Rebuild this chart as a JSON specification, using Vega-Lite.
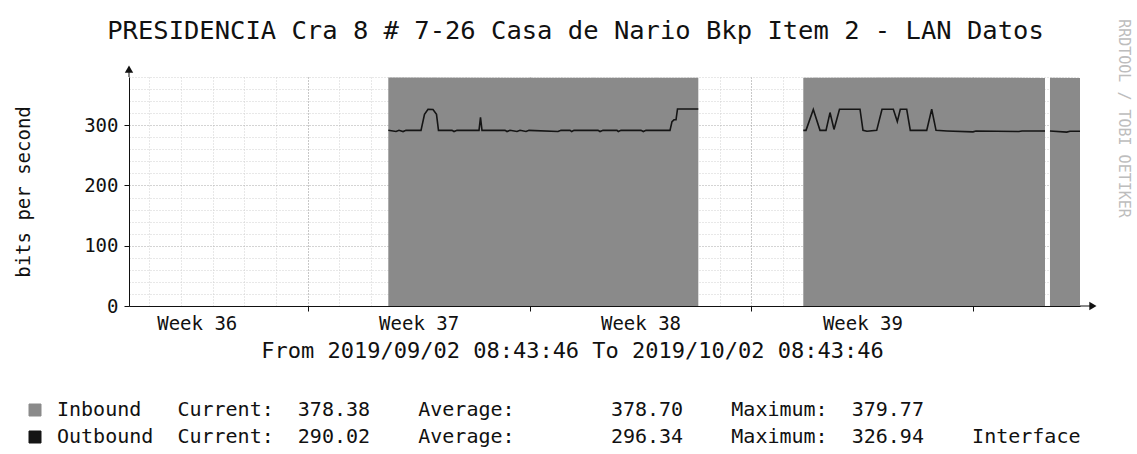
{
  "$schema": "https://vega.github.io/schema/vega-lite/v6.json",
  "width": 951,
  "height": 229,
  "autosize": "none",
  "padding": {"left": 129, "top": 77, "right": 57, "bottom": 148},
  "background": "white",
  "title": {
    "text": "PRESIDENCIA Cra 8 # 7-26 Casa de Nario Bkp Item 2 - LAN Datos",
    "font": "DejaVu Sans Mono",
    "fontSize": 25.5,
    "fontWeight": "normal",
    "color": "#111111",
    "anchor": "middle",
    "frame": "group",
    "dx": -29,
    "dy": 26,
    "offset": 0
  },
  "config": {
    "view": {"stroke": null},
    "font": "DejaVu Sans Mono",
    "axis": {
      "labelFont": "DejaVu Sans Mono",
      "titleFont": "DejaVu Sans Mono",
      "labelColor": "#111111",
      "titleColor": "#111111",
      "titleFontWeight": "normal",
      "domainColor": "#111111",
      "tickColor": "#111111"
    }
  },
  "data": {
    "values": [
      {"s": "Inbound", "g": 1, "t": "2019-09-10T13:03:00", "v": 379.1},
      {"s": "Inbound", "g": 1, "t": "2019-09-15T12:00:00", "v": 378.7},
      {"s": "Inbound", "g": 1, "t": "2019-09-20T07:45:00", "v": 378.9},
      {"s": "Inbound", "g": 2, "t": "2019-09-23T15:14:00", "v": 378.6},
      {"s": "Inbound", "g": 2, "t": "2019-09-27T00:00:00", "v": 379.0},
      {"s": "Inbound", "g": 2, "t": "2019-10-01T06:14:00", "v": 378.5},
      {"s": "Inbound", "g": 3, "t": "2019-10-01T10:00:00", "v": 378.6},
      {"s": "Inbound", "g": 3, "t": "2019-10-02T08:43:46", "v": 378.38},

      {"s": "Outbound", "g": 1, "t": "2019-09-10T13:03:00", "v": 291.5},
      {"s": "Outbound", "g": 1, "t": "2019-09-10T18:53:00", "v": 289.5},
      {"s": "Outbound", "g": 1, "t": "2019-09-10T21:09:00", "v": 291.5},
      {"s": "Outbound", "g": 1, "t": "2019-09-11T00:12:00", "v": 289.5},
      {"s": "Outbound", "g": 1, "t": "2019-09-11T02:27:00", "v": 291.5},
      {"s": "Outbound", "g": 1, "t": "2019-09-11T13:48:00", "v": 291.5},
      {"s": "Outbound", "g": 1, "t": "2019-09-11T16:27:00", "v": 318},
      {"s": "Outbound", "g": 1, "t": "2019-09-11T19:06:00", "v": 326.5},
      {"s": "Outbound", "g": 1, "t": "2019-09-11T22:53:00", "v": 326},
      {"s": "Outbound", "g": 1, "t": "2019-09-12T01:32:00", "v": 318},
      {"s": "Outbound", "g": 1, "t": "2019-09-12T03:03:00", "v": 291.5},
      {"s": "Outbound", "g": 1, "t": "2019-09-12T13:16:00", "v": 291.5},
      {"s": "Outbound", "g": 1, "t": "2019-09-12T14:47:00", "v": 289.5},
      {"s": "Outbound", "g": 1, "t": "2019-09-12T17:04:00", "v": 291.5},
      {"s": "Outbound", "g": 1, "t": "2019-09-13T09:43:00", "v": 291.5},
      {"s": "Outbound", "g": 1, "t": "2019-09-13T10:51:00", "v": 313},
      {"s": "Outbound", "g": 1, "t": "2019-09-13T11:59:00", "v": 291.5},
      {"s": "Outbound", "g": 1, "t": "2019-09-14T05:24:00", "v": 291.5},
      {"s": "Outbound", "g": 1, "t": "2019-09-14T06:55:00", "v": 289.5},
      {"s": "Outbound", "g": 1, "t": "2019-09-14T09:11:00", "v": 291.5},
      {"s": "Outbound", "g": 1, "t": "2019-09-14T14:29:00", "v": 289.5},
      {"s": "Outbound", "g": 1, "t": "2019-09-14T16:46:00", "v": 291.5},
      {"s": "Outbound", "g": 1, "t": "2019-09-14T21:18:00", "v": 289.5},
      {"s": "Outbound", "g": 1, "t": "2019-09-14T23:34:00", "v": 291.5},
      {"s": "Outbound", "g": 1, "t": "2019-09-15T21:32:00", "v": 289.5},
      {"s": "Outbound", "g": 1, "t": "2019-09-15T23:48:00", "v": 291.5},
      {"s": "Outbound", "g": 1, "t": "2019-09-16T06:37:00", "v": 291.5},
      {"s": "Outbound", "g": 1, "t": "2019-09-16T07:54:00", "v": 289.5},
      {"s": "Outbound", "g": 1, "t": "2019-09-16T09:38:00", "v": 291.5},
      {"s": "Outbound", "g": 1, "t": "2019-09-17T03:49:00", "v": 291.5},
      {"s": "Outbound", "g": 1, "t": "2019-09-17T05:19:00", "v": 289.5},
      {"s": "Outbound", "g": 1, "t": "2019-09-17T07:36:00", "v": 291.5},
      {"s": "Outbound", "g": 1, "t": "2019-09-17T18:11:00", "v": 291.5},
      {"s": "Outbound", "g": 1, "t": "2019-09-17T19:11:00", "v": 289.5},
      {"s": "Outbound", "g": 1, "t": "2019-09-17T21:13:00", "v": 291.5},
      {"s": "Outbound", "g": 1, "t": "2019-09-18T12:22:00", "v": 291.5},
      {"s": "Outbound", "g": 1, "t": "2019-09-18T14:07:00", "v": 289.5},
      {"s": "Outbound", "g": 1, "t": "2019-09-18T16:09:00", "v": 291.5},
      {"s": "Outbound", "g": 1, "t": "2019-09-19T10:19:00", "v": 291.5},
      {"s": "Outbound", "g": 1, "t": "2019-09-19T11:50:00", "v": 306},
      {"s": "Outbound", "g": 1, "t": "2019-09-19T13:21:00", "v": 309},
      {"s": "Outbound", "g": 1, "t": "2019-09-19T14:52:00", "v": 309},
      {"s": "Outbound", "g": 1, "t": "2019-09-19T16:00:00", "v": 327},
      {"s": "Outbound", "g": 1, "t": "2019-09-20T07:45:00", "v": 327},

      {"s": "Outbound", "g": 2, "t": "2019-09-23T15:14:00", "v": 291.5},
      {"s": "Outbound", "g": 2, "t": "2019-09-23T17:17:00", "v": 291.5},
      {"s": "Outbound", "g": 2, "t": "2019-09-23T22:49:00", "v": 326},
      {"s": "Outbound", "g": 2, "t": "2019-09-24T03:53:00", "v": 291.5},
      {"s": "Outbound", "g": 2, "t": "2019-09-24T08:26:00", "v": 291.5},
      {"s": "Outbound", "g": 2, "t": "2019-09-24T11:28:00", "v": 321},
      {"s": "Outbound", "g": 2, "t": "2019-09-24T14:29:00", "v": 293},
      {"s": "Outbound", "g": 2, "t": "2019-09-24T18:39:00", "v": 326.5},
      {"s": "Outbound", "g": 2, "t": "2019-09-25T10:10:00", "v": 326.5},
      {"s": "Outbound", "g": 2, "t": "2019-09-25T12:26:00", "v": 291.5},
      {"s": "Outbound", "g": 2, "t": "2019-09-25T15:28:00", "v": 290},
      {"s": "Outbound", "g": 2, "t": "2019-09-25T22:49:00", "v": 291.5},
      {"s": "Outbound", "g": 2, "t": "2019-09-26T02:50:00", "v": 326.5},
      {"s": "Outbound", "g": 2, "t": "2019-09-26T11:23:00", "v": 326.5},
      {"s": "Outbound", "g": 2, "t": "2019-09-26T14:25:00", "v": 306},
      {"s": "Outbound", "g": 2, "t": "2019-09-26T16:41:00", "v": 326.5},
      {"s": "Outbound", "g": 2, "t": "2019-09-26T21:32:00", "v": 326.5},
      {"s": "Outbound", "g": 2, "t": "2019-09-27T00:15:00", "v": 291.5},
      {"s": "Outbound", "g": 2, "t": "2019-09-27T12:40:00", "v": 291.5},
      {"s": "Outbound", "g": 2, "t": "2019-09-27T16:27:00", "v": 326.5},
      {"s": "Outbound", "g": 2, "t": "2019-09-27T19:43:00", "v": 291.5},
      {"s": "Outbound", "g": 2, "t": "2019-09-28T04:02:00", "v": 290.5},
      {"s": "Outbound", "g": 2, "t": "2019-09-28T23:43:00", "v": 289},
      {"s": "Outbound", "g": 2, "t": "2019-09-29T01:59:00", "v": 290.5},
      {"s": "Outbound", "g": 2, "t": "2019-09-30T10:33:00", "v": 289.5},
      {"s": "Outbound", "g": 2, "t": "2019-09-30T12:49:00", "v": 290.5},
      {"s": "Outbound", "g": 2, "t": "2019-10-01T06:14:00", "v": 290.5},

      {"s": "Outbound", "g": 3, "t": "2019-10-01T10:00:00", "v": 290.5},
      {"s": "Outbound", "g": 3, "t": "2019-10-01T22:40:00", "v": 288.5},
      {"s": "Outbound", "g": 3, "t": "2019-10-02T01:10:00", "v": 290},
      {"s": "Outbound", "g": 3, "t": "2019-10-02T08:43:46", "v": 290.02}
    ]
  },
  "encoding": {
    "color": {
      "field": "s",
      "type": "nominal",
      "scale": {"domain": ["Inbound", "Outbound"], "range": ["#8a8a8a", "#151515"]},
      "legend": {
        "orient": "none",
        "legendX": -104,
        "legendY": 323,
        "direction": "vertical",
        "title": null,
        "padding": 0,
        "symbolType": "square",
        "symbolSize": 144,
        "symbolStrokeColor": "#222222",
        "symbolStrokeWidth": 1,
        "symbolOpacity": 1,
        "labelFont": "DejaVu Sans Mono",
        "labelFontSize": 20,
        "labelColor": "#111111",
        "labelLimit": 1100,
        "labelOffset": 12,
        "rowPadding": 7,
        "labelExpr": "datum.label == 'Inbound' ? 'Inbound\u00a0\u00a0\u00a0Current:\u00a0\u00a0378.38\u00a0\u00a0\u00a0\u00a0Average:\u00a0\u00a0\u00a0\u00a0\u00a0\u00a0\u00a0\u00a0378.70\u00a0\u00a0\u00a0\u00a0Maximum:\u00a0\u00a0379.77' : 'Outbound\u00a0\u00a0Current:\u00a0\u00a0290.02\u00a0\u00a0\u00a0\u00a0Average:\u00a0\u00a0\u00a0\u00a0\u00a0\u00a0\u00a0\u00a0296.34\u00a0\u00a0\u00a0\u00a0Maximum:\u00a0\u00a0326.94\u00a0\u00a0\u00a0\u00a0Interface'",
        "encode": {"symbols": {"update": {"fill": {"scale": "color", "field": "value"}, "opacity": {"value": 1}}}}
      }
    }
  },
  "layer": [
    {
      "transform": [{"filter": "datum.s == 'Inbound'"}],
      "mark": {"type": "area", "opacity": 1},
      "encoding": {
        "x": {
          "field": "t", "type": "temporal",
          "scale": {"domain": [{"year": 2019, "month": 9, "date": 2, "hours": 8, "minutes": 43, "seconds": 46}, {"year": 2019, "month": 10, "date": 2, "hours": 8, "minutes": 43, "seconds": 46}], "nice": false},
          "axis": {"orient": "bottom", "tickCount": {"interval": "day", "step": 1}, "grid": true, "gridColor": "#d0d0d0", "gridDash": [1, 2], "labels": false, "ticks": false, "domain": false, "title": null}
        },
        "y": {
          "field": "v", "type": "quantitative", "stack": null,
          "scale": {"domain": [0, 380], "nice": false},
          "axis": {"orient": "left", "values": [20, 40, 60, 80, 120, 140, 160, 180, 220, 240, 260, 280, 320, 340, 360, 380], "grid": true, "gridColor": "#d0d0d0", "gridDash": [1, 2], "labels": false, "ticks": false, "domain": false, "title": null}
        },
        "detail": {"field": "g"}
      }
    },
    {
      "transform": [{"filter": "datum.s == 'Outbound'"}],
      "mark": {"type": "line", "strokeWidth": 1.6},
      "encoding": {
        "x": {
          "field": "t", "type": "temporal",
          "scale": {"domain": [{"year": 2019, "month": 9, "date": 2, "hours": 8, "minutes": 43, "seconds": 46}, {"year": 2019, "month": 10, "date": 2, "hours": 8, "minutes": 43, "seconds": 46}], "nice": false},
          "axis": {"orient": "bottom", "tickCount": {"interval": "week", "step": 1}, "grid": true, "gridColor": "#a8a8a8", "gridDash": [1, 2], "labels": false, "ticks": true, "tickSize": 5, "domain": false, "title": null}
        },
        "y": {
          "field": "v", "type": "quantitative",
          "scale": {"domain": [0, 380], "nice": false},
          "axis": {"orient": "left", "values": [0, 100, 200, 300], "grid": true, "gridColor": "#a8a8a8", "gridDash": [1, 2], "labelFontSize": 19, "labelPadding": 6, "tickSize": 5, "domain": true, "title": "bits per second", "titleFontSize": 19, "titlePadding": 50}
        },
        "detail": {"field": "g"}
      }
    },
    {
      "data": {"values": [{}]},
      "mark": {"type": "point", "shape": "triangle-right", "filled": true, "size": 70, "color": "#111111", "opacity": 1},
      "encoding": {
        "color": null,
        "x": {
          "datum": {"year": 2019, "month": 10, "date": 2, "hours": 18, "minutes": 30}, "type": "temporal",
          "scale": {"domain": [{"year": 2019, "month": 9, "date": 2, "hours": 8, "minutes": 43, "seconds": 46}, {"year": 2019, "month": 10, "date": 2, "hours": 8, "minutes": 43, "seconds": 46}], "nice": false},
          "axis": {
            "orient": "bottom",
            "values": [{"year": 2019, "month": 9, "date": 4, "hours": 12}, {"year": 2019, "month": 9, "date": 11, "hours": 12}, {"year": 2019, "month": 9, "date": 18, "hours": 12}, {"year": 2019, "month": 9, "date": 25, "hours": 12}],
            "labelExpr": "'Week ' + timeFormat(datum.value, '%V')",
            "labelFontSize": 19, "labelPadding": 8, "labelFlush": false, "labelOverlap": false,
            "ticks": false, "grid": false, "domain": true, "zindex": 1,
            "title": "From 2019/09/02 08:43:46 To 2019/10/02 08:43:46",
            "titleFontSize": 22, "titlePadding": 7, "titleX": 443
          }
        },
        "y": {
          "datum": 0, "type": "quantitative",
          "scale": {"domain": [0, 380], "nice": false},
          "axis": {
            "orient": "right", "labels": false, "ticks": false, "domain": false, "grid": false,
            "title": "RRDTOOL / TOBI OETIKER", "titleAngle": 90, "titleColor": "#bdbdbd", "titleFontSize": 15,
            "titleX": 43, "titleY": 41, "titleAlign": "center", "titleBaseline": "middle"
          }
        }
      }
    },
    {
      "data": {"values": [{}]},
      "mark": {"type": "point", "shape": "triangle-up", "filled": true, "size": 70, "color": "#111111", "opacity": 1},
      "encoding": {
        "color": null,
        "x": {
          "datum": {"year": 2019, "month": 9, "date": 2, "hours": 8, "minutes": 43, "seconds": 46}, "type": "temporal",
          "scale": {"domain": [{"year": 2019, "month": 9, "date": 2, "hours": 8, "minutes": 43, "seconds": 46}, {"year": 2019, "month": 10, "date": 2, "hours": 8, "minutes": 43, "seconds": 46}], "nice": false},
          "axis": null
        },
        "y": {"datum": 393, "type": "quantitative", "scale": {"domain": [0, 380], "nice": false}, "axis": null}
      }
    },
    {
      "data": {"values": [{}]},
      "mark": {"type": "rule", "color": "#111111", "strokeWidth": 1},
      "encoding": {
        "color": null,
        "x": {
          "datum": {"year": 2019, "month": 10, "date": 2, "hours": 8, "minutes": 43, "seconds": 46}, "type": "temporal",
          "scale": {"domain": [{"year": 2019, "month": 9, "date": 2, "hours": 8, "minutes": 43, "seconds": 46}, {"year": 2019, "month": 10, "date": 2, "hours": 8, "minutes": 43, "seconds": 46}], "nice": false},
          "axis": null
        },
        "x2": {"datum": {"year": 2019, "month": 10, "date": 2, "hours": 17, "minutes": 0}},
        "y": {"datum": 0, "type": "quantitative", "scale": {"domain": [0, 380], "nice": false}, "axis": null}
      }
    },
    {
      "data": {"values": [{}]},
      "mark": {"type": "rule", "color": "#111111", "strokeWidth": 1},
      "encoding": {
        "color": null,
        "x": {
          "datum": {"year": 2019, "month": 9, "date": 2, "hours": 8, "minutes": 43, "seconds": 46}, "type": "temporal",
          "scale": {"domain": [{"year": 2019, "month": 9, "date": 2, "hours": 8, "minutes": 43, "seconds": 46}, {"year": 2019, "month": 10, "date": 2, "hours": 8, "minutes": 43, "seconds": 46}], "nice": false},
          "axis": null
        },
        "y": {"datum": 380, "type": "quantitative", "scale": {"domain": [0, 380], "nice": false}, "axis": null},
        "y2": {"datum": 392}
      }
    }
  ],
  "resolve": {"axis": {"x": "independent", "y": "independent"}}
}
